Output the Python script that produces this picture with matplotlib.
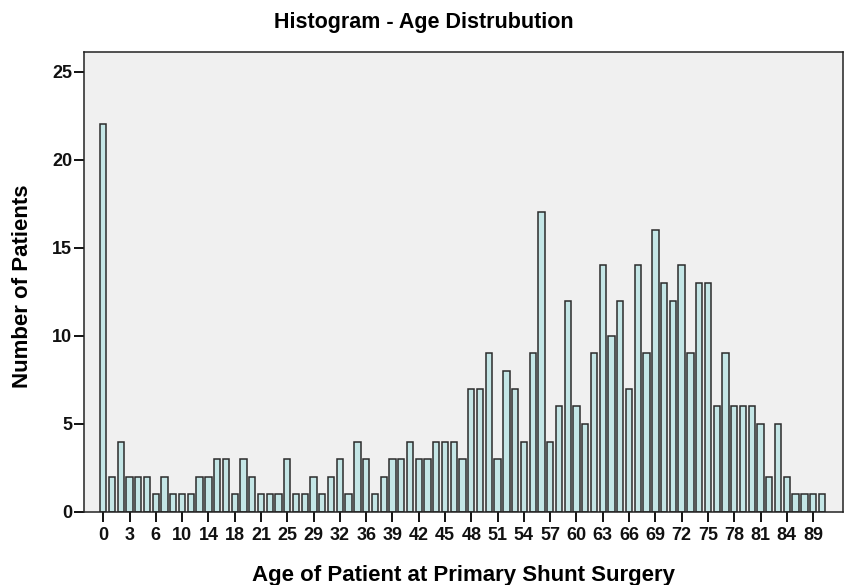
import matplotlib
matplotlib.use("Agg")
import matplotlib.pyplot as plt

ages = [0, 1, 2, 3, 4, 5, 6, 7, 8, 10, 11, 12, 14, 15, 16, 18, 19, 20, 21, 22, 23,
        25, 26, 27, 29, 30, 31, 32, 33, 34, 36, 37, 38,
        39, 40, 41, 42, 43, 44, 45, 46, 47, 48, 49, 50, 51, 52, 53, 54, 55, 56, 57,
        58, 59, 60, 61, 62, 63, 64, 65, 66, 67, 68, 69, 70, 71, 72, 73, 74, 75, 76,
        77, 78, 79, 80, 81, 82, 83, 84, 86, 88, 89, 90]
counts = [22, 2, 4, 2, 2, 2, 1, 2, 1, 1, 1, 2, 2, 3, 3, 1, 3, 2, 1, 1, 1,
          3, 1, 1, 2, 1, 2, 3, 1, 4, 3, 1, 2,
          3, 3, 4, 3, 3, 4, 4, 4, 3, 7, 7, 9, 3, 8, 7, 4, 9, 17, 4,
          6, 12, 6, 5, 9, 14, 10, 12, 7, 14, 9, 16, 13, 12, 14, 9, 13, 13, 6,
          9, 6, 6, 6, 5, 2, 5, 2, 1, 1, 1, 1]
yticks = [0, 5, 10, 15, 20, 25]

plt.rcParams['font.family'] = ['Liberation Sans', 'DejaVu Sans']
plt.rcParams['font.weight'] = 'bold'

fig = plt.figure(figsize=(8.48, 5.85), dpi=100)
ax = fig.add_axes([0.099, 0.1248, 0.895, 0.786])
ax.set_facecolor('#f0f0f0')

pos = list(range(len(ages)))
ax.bar(pos, counts, width=0.72, color='#c4e6e6', edgecolor='#2b2b2b', linewidth=1.1)

ax.set_xlim(-2.2, len(ages) + 1.4)
ax.set_ylim(0, 26.1)
ax.set_yticks(yticks)
ax.set_yticklabels([str(v) for v in yticks], fontsize=13, fontweight='bold')
tick_pos = pos[::3]
ax.set_xticks(tick_pos)
ax.set_xticklabels([str(ages[i]) for i in tick_pos], fontsize=13, fontweight='bold')
ax.tick_params(axis='both', direction='out', length=7, width=1.4, colors='#111111')
ax.tick_params(axis='x', pad=3.5)
ax.tick_params(axis='y', pad=1.5)
for s in ax.spines.values():
    s.set_linewidth(1.1)
    s.set_color('#222222')

fig.text(0.5465, 0.0074, 'Age of Patient at Primary Shunt Surgery', ha='center', va='baseline',
         fontsize=16, fontweight='bold')
fig.text(0.0271, 0.511, 'Number of Patients', ha='center', va='center', rotation=90,
         fontsize=16, fontweight='bold')
fig.text(0.4994, 0.9615, 'Histogram - Age Distrubution', ha='center', va='center',
         fontsize=15.5, fontweight='bold')

fig.savefig('out.png', dpi=100, facecolor='white')
